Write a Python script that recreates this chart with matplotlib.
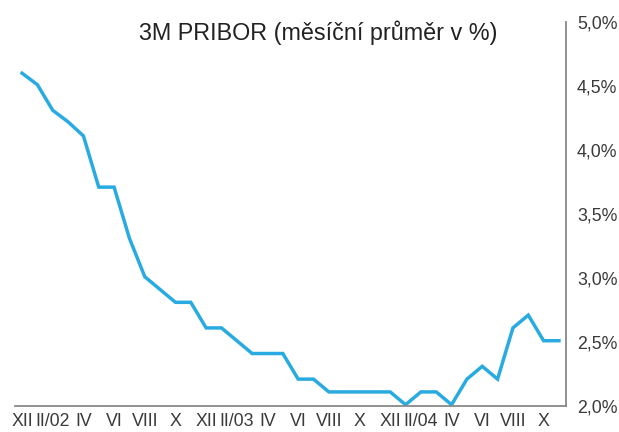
import matplotlib
matplotlib.use("Agg")
import matplotlib.pyplot as plt
import numpy as np

# 3M PRIBOR, monthly average, XII/2001 - XI/2004
months = ["XII", "I/02", "II/02", "III", "IV", "V", "VI", "VII", "VIII", "IX", "X", "XI",
          "XII", "I/03", "II/03", "III", "IV", "V", "VI", "VII", "VIII", "IX", "X", "XI",
          "XII", "I/04", "II/04", "III", "IV", "V", "VI", "VII", "VIII", "IX", "X", "XI"]
pribor = [4.60, 4.51, 4.31, 4.22, 4.11, 3.71, 3.71, 3.31, 3.01, 2.91, 2.81, 2.81,
          2.61, 2.61, 2.51, 2.41, 2.41, 2.41, 2.21, 2.21, 2.11, 2.11, 2.11, 2.11,
          2.11, 2.01, 2.11, 2.11, 2.01, 2.21, 2.31, 2.21, 2.61, 2.71, 2.51, 2.51]
yticks = [2.0, 2.5, 3.0, 3.5, 4.0, 4.5, 5.0]

plt.rcParams['font.family'] = ['Liberation Sans', 'DejaVu Sans']

fig = plt.figure(figsize=(6.19, 4.32), dpi=100)
ax = fig.add_axes([15 / 619, 1 - 406 / 432, 551 / 619, 384 / 432])

x = np.arange(len(pribor))
ax.plot(x, pribor, color="#29abe2", linewidth=2.5, solid_joinstyle="miter")

ax.set_xlim(-0.46, len(pribor) - 0.54)
ax.set_ylim(2.0, 5.0)

ax.set_xticks(x[::2])
ax.set_xticklabels(months[::2])
ax.set_yticks(yticks)
ax.set_yticklabels([("%.1f%%" % v).replace(".", ",") for v in yticks])
ax.yaxis.tick_right()

ax.tick_params(axis="both", length=0, labelsize=12.8, colors="#3a3a3a")
ax.tick_params(axis="y", pad=8)
ax.tick_params(axis="x", pad=5)

for s in ["left", "top"]:
    ax.spines[s].set_visible(False)
for s in ["right", "bottom"]:
    ax.spines[s].set_color("#888888")
    ax.spines[s].set_linewidth(1.3)

fig.text(318 / 619, 1 - 33 / 432, "3M PRIBOR (měsíční průměr v %)",
         ha="center", va="center", fontsize=16.8, color="#222222")

fig.savefig("out.png", dpi=100)
